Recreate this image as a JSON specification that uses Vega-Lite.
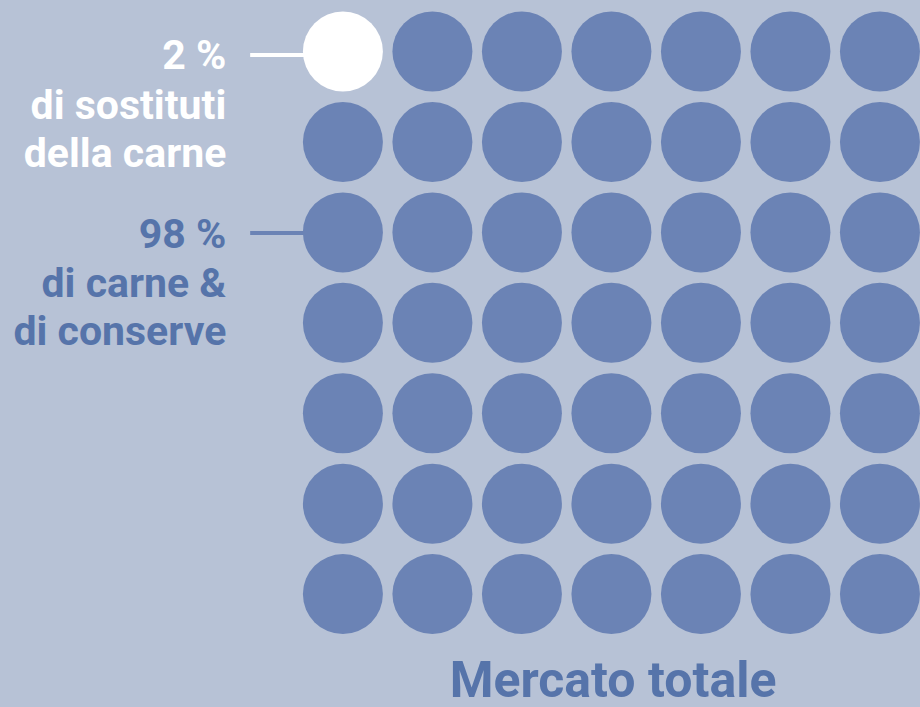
{
  "$schema": "https://vega.github.io/schema/vega-lite/v6.json",
  "width": 920,
  "height": 707,
  "autosize": {"type": "fit", "contains": "padding"},
  "padding": 0,
  "background": "#b7c2d6",
  "config": {"view": {"stroke": null}},
  "datasets": {
    "cells": [
      {"col": 0, "row": 0, "grp": "sostituti"}, {"col": 1, "row": 0, "grp": "carne"}, {"col": 2, "row": 0, "grp": "carne"}, {"col": 3, "row": 0, "grp": "carne"}, {"col": 4, "row": 0, "grp": "carne"}, {"col": 5, "row": 0, "grp": "carne"}, {"col": 6, "row": 0, "grp": "carne"},
      {"col": 0, "row": 1, "grp": "carne"}, {"col": 1, "row": 1, "grp": "carne"}, {"col": 2, "row": 1, "grp": "carne"}, {"col": 3, "row": 1, "grp": "carne"}, {"col": 4, "row": 1, "grp": "carne"}, {"col": 5, "row": 1, "grp": "carne"}, {"col": 6, "row": 1, "grp": "carne"},
      {"col": 0, "row": 2, "grp": "carne"}, {"col": 1, "row": 2, "grp": "carne"}, {"col": 2, "row": 2, "grp": "carne"}, {"col": 3, "row": 2, "grp": "carne"}, {"col": 4, "row": 2, "grp": "carne"}, {"col": 5, "row": 2, "grp": "carne"}, {"col": 6, "row": 2, "grp": "carne"},
      {"col": 0, "row": 3, "grp": "carne"}, {"col": 1, "row": 3, "grp": "carne"}, {"col": 2, "row": 3, "grp": "carne"}, {"col": 3, "row": 3, "grp": "carne"}, {"col": 4, "row": 3, "grp": "carne"}, {"col": 5, "row": 3, "grp": "carne"}, {"col": 6, "row": 3, "grp": "carne"},
      {"col": 0, "row": 4, "grp": "carne"}, {"col": 1, "row": 4, "grp": "carne"}, {"col": 2, "row": 4, "grp": "carne"}, {"col": 3, "row": 4, "grp": "carne"}, {"col": 4, "row": 4, "grp": "carne"}, {"col": 5, "row": 4, "grp": "carne"}, {"col": 6, "row": 4, "grp": "carne"},
      {"col": 0, "row": 5, "grp": "carne"}, {"col": 1, "row": 5, "grp": "carne"}, {"col": 2, "row": 5, "grp": "carne"}, {"col": 3, "row": 5, "grp": "carne"}, {"col": 4, "row": 5, "grp": "carne"}, {"col": 5, "row": 5, "grp": "carne"}, {"col": 6, "row": 5, "grp": "carne"},
      {"col": 0, "row": 6, "grp": "carne"}, {"col": 1, "row": 6, "grp": "carne"}, {"col": 2, "row": 6, "grp": "carne"}, {"col": 3, "row": 6, "grp": "carne"}, {"col": 4, "row": 6, "grp": "carne"}, {"col": 5, "row": 6, "grp": "carne"}, {"col": 6, "row": 6, "grp": "carne"}
    ],
    "leaders": [
      {"x": -1.036, "x2": -0.38, "y": 0.038, "grp": "sostituti"},
      {"x": -1.036, "x2": -0.38, "y": 2.007, "grp": "carne"}
    ],
    "labels": [
      {"x": -1.303, "y": 0.197, "text": "2 %", "grp": "sostituti"},
      {"x": -1.303, "y": 0.746, "text": "di sostituti", "grp": "sostituti"},
      {"x": -1.303, "y": 1.272, "text": "della carne", "grp": "sostituti"},
      {"x": -1.303, "y": 2.171, "text": "98 %", "grp": "carne"},
      {"x": -1.303, "y": 2.719, "text": "di carne &", "grp": "carne"},
      {"x": -1.303, "y": 3.246, "text": "di conserve", "grp": "carne"}
    ],
    "title": [
      {"x": 3.018, "y": 7.138, "text": "Mercato totale"}
    ]
  },
  "layer": [
    {
      "data": {"name": "leaders"},
      "mark": {"type": "rule", "strokeWidth": 4},
      "encoding": {
        "x": {"field": "x", "type": "quantitative", "scale": {"domain": [-3.831, 6.414], "nice": false, "zero": false}, "axis": null},
        "x2": {"field": "x2"},
        "y": {"field": "y", "type": "quantitative", "scale": {"domain": [-0.57, 7.182], "nice": false, "zero": false, "reverse": true}, "axis": null},
        "color": {"field": "grp", "type": "nominal", "scale": {"domain": ["sostituti", "carne"], "range": ["#ffffff", "#6b83b5"]}, "legend": null}
      }
    },
    {
      "data": {"name": "cells"},
      "mark": {"type": "point", "shape": "circle", "filled": true, "opacity": 1, "size": 6400, "strokeWidth": 0},
      "encoding": {
        "x": {"field": "col", "type": "quantitative", "scale": {"domain": [-3.831, 6.414], "nice": false, "zero": false}, "axis": null},
        "y": {"field": "row", "type": "quantitative", "scale": {"domain": [-0.57, 7.182], "nice": false, "zero": false, "reverse": true}, "axis": null},
        "color": {"field": "grp", "type": "nominal", "scale": {"domain": ["sostituti", "carne"], "range": ["#ffffff", "#6b83b5"]}, "legend": null}
      }
    },
    {
      "data": {"name": "labels"},
      "mark": {"type": "text", "align": "right", "baseline": "alphabetic", "font": "Roboto", "fontWeight": "bold", "fontSize": 41},
      "encoding": {
        "x": {"field": "x", "type": "quantitative", "scale": {"domain": [-3.831, 6.414], "nice": false, "zero": false}, "axis": null},
        "y": {"field": "y", "type": "quantitative", "scale": {"domain": [-0.57, 7.182], "nice": false, "zero": false, "reverse": true}, "axis": null},
        "text": {"field": "text"},
        "color": {"field": "grp", "type": "nominal", "scale": {"domain": ["sostituti", "carne"], "range": ["#ffffff", "#5674aa"]}, "legend": null}
      }
    },
    {
      "data": {"name": "title"},
      "mark": {"type": "text", "align": "center", "baseline": "alphabetic", "font": "Roboto", "fontWeight": "bold", "fontSize": 50, "color": "#5674aa"},
      "encoding": {
        "x": {"field": "x", "type": "quantitative", "scale": {"domain": [-3.831, 6.414], "nice": false, "zero": false}, "axis": null},
        "y": {"field": "y", "type": "quantitative", "scale": {"domain": [-0.57, 7.182], "nice": false, "zero": false, "reverse": true}, "axis": null},
        "text": {"field": "text"}
      }
    }
  ],
  "resolve": {"scale": {"color": "independent"}}
}
